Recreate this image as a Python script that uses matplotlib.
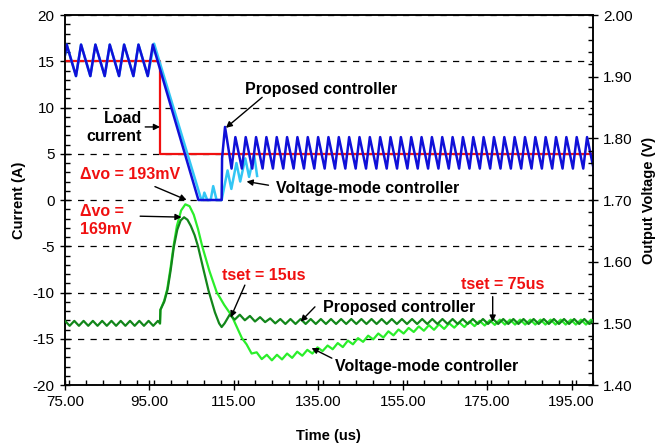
import matplotlib
matplotlib.use('Agg')
import matplotlib.pyplot as plt
from matplotlib.ticker import MultipleLocator, FormatStrFormatter

plt.rcParams['font.family'] = ['Liberation Sans', 'DejaVu Sans']

# load current step (A)
load_t = [75.0, 97.6, 97.6, 200.0]
load_i = [15.0, 15.0, 5.0, 5.0]

# proposed controller, inductor current (A): start-up + transient part
prop_i_t = [75.0, 75.4, 77.6, 78.8, 81.0, 82.2, 84.4, 85.6, 87.8, 89.0, 91.2,
            92.4, 94.6, 95.8, 106.6, 112.1, 112.2, 112.9]
prop_i_v = [15.7, 16.8, 13.4, 16.8, 13.4, 16.8, 13.4, 16.8, 13.4, 16.8, 13.4,
            16.8, 13.4, 16.8, 0.0, 0.0, 4.5, 7.9]
# ... and its ripple after the load step
prop_peak_t = [115.35, 117.80, 120.25, 122.70, 125.15, 127.60, 130.05, 132.50,
               134.95, 137.40, 139.85, 142.30, 144.75, 147.20, 149.65, 152.10,
               154.55, 157.00, 159.45, 161.90, 164.35, 166.80, 169.25, 171.70,
               174.15, 176.60, 179.05, 181.50, 183.95, 186.40, 188.85, 191.30,
               193.75, 196.20, 198.65]
prop_valley_t = [114.45, 116.90, 119.35, 121.80, 124.25, 126.70, 129.15, 131.60,
                 134.05, 136.50, 138.95, 141.40, 143.85, 146.30, 148.75, 151.20,
                 153.65, 156.10, 158.55, 161.00, 163.45, 165.90, 168.35, 170.80,
                 173.25, 175.70, 178.15, 180.60, 183.05, 185.50, 187.95, 190.40,
                 192.85, 195.30, 197.75, 200.20]
prop_peak_level = 6.8
prop_valley_level = 3.4

# voltage-mode controller, inductor current (A)
vm_i_t = [75.0, 75.4, 77.6, 78.8, 81.0, 82.2, 84.4, 85.6, 87.8, 89.0, 91.2,
          92.4, 94.6, 96.1, 107.3, 107.6, 108.0, 108.7, 109.5, 110.1, 110.9,
          112.1, 113.5, 114.4, 115.6, 116.5, 117.7, 118.6, 119.8, 120.5]
vm_i_v = [15.7, 16.8, 13.4, 16.8, 13.4, 16.8, 13.4, 16.8, 13.4, 16.8, 13.4,
          16.8, 13.4, 16.9, 0.0, 0.0, 0.8, 0.0, 0.0, 1.5, 0.0,
          0.0, 3.2, 1.2, 4.0, 2.0, 4.5, 2.5, 4.9, 2.6]

# proposed controller, output voltage (V)
prop_v_t = [75.0, 76.1, 77.2, 78.3, 79.4, 80.5, 81.6, 82.7, 83.8, 84.9, 86.0,
            87.1, 88.2, 89.3, 90.4, 91.5, 92.6, 93.7, 94.8, 95.9, 97.0, 97.5,
            97.6, 98.5, 99.3, 100.0, 100.8, 101.6, 102.4, 103.2, 104.0, 104.8,
            105.7, 106.5, 107.7, 109.0, 110.5, 111.5, 112.1, 112.8, 114.0,
            115.2, 116.4, 117.6, 118.8, 120.0, 121.2, 122.4, 123.6, 124.8,
            126.0, 127.2]
prop_v_v = [1.504, 1.496, 1.504, 1.496, 1.504, 1.496, 1.504, 1.496, 1.504,
            1.496, 1.504, 1.496, 1.504, 1.496, 1.504, 1.496, 1.504, 1.496,
            1.504, 1.496, 1.504, 1.500,
            1.522, 1.535, 1.555, 1.585, 1.625, 1.652, 1.667, 1.672, 1.668,
            1.658, 1.643, 1.625, 1.590, 1.553, 1.518, 1.500, 1.494, 1.500,
            1.514, 1.506, 1.514, 1.505, 1.512, 1.503, 1.510, 1.502, 1.508,
            1.500, 1.507, 1.499]
prop_v_crest_t = [128.4, 130.8, 133.2, 135.6, 138.0, 140.4, 142.8, 145.2, 147.6,
                  150.0, 152.4, 154.8, 157.2, 159.6, 162.0, 164.4, 166.8, 169.2,
                  171.6, 174.0, 176.4, 178.8, 181.2, 183.6, 186.0, 188.4, 190.8,
                  193.2, 195.6, 198.0, 200.4]
prop_v_trough_t = [129.6, 132.0, 134.4, 136.8, 139.2, 141.6, 144.0, 146.4, 148.8,
                   151.2, 153.6, 156.0, 158.4, 160.8, 163.2, 165.6, 168.0, 170.4,
                   172.8, 175.2, 177.6, 180.0, 182.4, 184.8, 187.2, 189.6, 192.0,
                   194.4, 196.8, 199.2]
prop_v_crest = 1.507
prop_v_trough = 1.499

# voltage-mode controller, output voltage (V)
vm_v_t = [97.5, 97.6, 98.5, 99.2, 100.0, 100.7, 101.5, 102.5, 103.5, 104.5,
          105.5, 106.5, 107.5, 109.2, 110.9, 112.7, 114.5, 115.7, 116.9,
          118.0, 119.2, 120.4, 121.6, 122.8, 124.0, 125.2, 126.4, 127.6, 128.8,
          130.0, 131.2, 132.4, 133.6, 134.8, 136.0, 137.2, 138.4, 139.6, 140.8,
          142.0, 143.2, 144.4, 145.6, 146.8, 148.0, 149.2, 150.4, 151.6, 152.8,
          154.0, 155.2, 156.4, 157.6, 158.8, 160.0, 161.2, 162.4, 163.6, 164.8,
          166.0, 167.2, 168.4, 169.6, 170.8, 172.0, 173.2, 174.4, 175.6, 176.8]
vm_v_v = [1.500, 1.522, 1.537, 1.555, 1.590, 1.625, 1.658, 1.683, 1.693, 1.690,
          1.676, 1.653, 1.625, 1.585, 1.551, 1.530, 1.512, 1.494, 1.476,
          1.466, 1.451, 1.453, 1.442, 1.449, 1.440, 1.449, 1.4415, 1.451, 1.444,
          1.454, 1.4475, 1.457, 1.451, 1.461, 1.455, 1.464, 1.458, 1.468, 1.4615,
          1.472, 1.466, 1.476, 1.470, 1.480, 1.474, 1.4835, 1.477, 1.487, 1.4805,
          1.490, 1.4835, 1.4925, 1.486, 1.495, 1.488, 1.497, 1.4895, 1.4985,
          1.491, 1.500, 1.493, 1.5015, 1.494, 1.503, 1.4955, 1.504, 1.4965,
          1.505, 1.4975]
vm_v_crest_t = [178.0, 180.4, 182.8, 185.2, 187.6, 190.0, 192.4, 194.8, 197.2,
                199.6]
vm_v_trough_t = [179.2, 181.6, 184.0, 186.4, 188.8, 191.2, 193.6, 196.0, 198.4,
                 200.8]
vm_v_crest = 1.506
vm_v_trough = 1.498

x_ticks = [75, 95, 115, 135, 155, 175, 195]

DARK_BLUE = '#1010d8'
LIGHT_BLUE = '#33c6f4'
RED = '#f01010'
DARK_GREEN = '#12861a'
LIGHT_GREEN = '#2aee2a'


def join_ripple(t, v, up_t, up_level, down_t, down_level):
    pts = [(a, up_level) for a in up_t] + [(a, down_level) for a in down_t]
    pts.sort()
    return list(t) + [p[0] for p in pts], list(v) + [p[1] for p in pts]


def note(ax_top, ax_ref, text, pos, color='black', ha='left'):
    ax_top.annotate(text, xy=pos, xycoords=ax_ref.transData,
                    ha=ha, va='center', multialignment=ha,
                    fontsize=11.5, fontweight='bold', color=color, zorder=10)


def arrow(ax_top, ax_ref, tail, tip):
    ax_top.annotate('', xy=tip, xytext=tail,
                    xycoords=ax_ref.transData, textcoords=ax_ref.transData,
                    arrowprops=dict(arrowstyle='-|>', color='black', lw=1.0,
                                    mutation_scale=9, shrinkA=0, shrinkB=0),
                    zorder=10)


fig = plt.figure(figsize=(6.6, 4.47), dpi=100)
ax = fig.add_axes([0.0985, 0.1387, 0.7996, 0.8277])
ax2 = ax.twinx()

# currents on the left axis
ax.plot(load_t, load_i, color=RED, lw=1.6, zorder=3)
ax.plot(vm_i_t, vm_i_v, color=LIGHT_BLUE, lw=1.8, zorder=4)
pt, pv = join_ripple(prop_i_t, prop_i_v, prop_peak_t, prop_peak_level,
                     prop_valley_t, prop_valley_level)
ax.plot(pt, pv, color=DARK_BLUE, lw=1.8, zorder=5)

# voltages on the right axis
vt, vv = join_ripple(vm_v_t, vm_v_v, vm_v_crest_t, vm_v_crest,
                     vm_v_trough_t, vm_v_trough)
ax2.plot(vt, vv, color=LIGHT_GREEN, lw=1.6, zorder=3)
gt, gv = join_ripple(prop_v_t, prop_v_v, prop_v_crest_t, prop_v_crest,
                     prop_v_trough_t, prop_v_trough)
ax2.plot(gt, gv, color=DARK_GREEN, lw=1.6, zorder=4)

ax.set_xlim(75, 200)
ax.set_ylim(-20, 20)
ax2.set_ylim(1.40, 2.00)

ax.set_xticks(x_ticks)
ax.xaxis.set_major_formatter(FormatStrFormatter('%.2f'))
ax.xaxis.set_minor_locator(MultipleLocator(4))
ax.yaxis.set_major_locator(MultipleLocator(5))
ax.yaxis.set_minor_locator(MultipleLocator(1))
ax.yaxis.set_major_formatter(FormatStrFormatter('%d'))
ax2.yaxis.set_major_locator(MultipleLocator(0.1))
ax2.yaxis.set_minor_locator(MultipleLocator(0.02))
ax2.yaxis.set_major_formatter(FormatStrFormatter('%.2f'))

ax.yaxis.grid(True, which='major', color='black', lw=0.9,
              linestyle=(0, (5, 5)))
ax.set_axisbelow(True)

for a in (ax, ax2):
    a.tick_params(which='major', direction='inout', length=7, width=1.0,
                  labelsize=11, pad=4, top=False)
    a.tick_params(which='minor', direction='in', length=3.5, width=1.0,
                  top=False)
    for s in a.spines.values():
        s.set_linewidth(1.1)
ax.tick_params(which='both', right=False)
ax2.tick_params(which='both', left=False)

ax.set_ylabel('Current (A)', fontsize=10.5, fontweight='bold')
ax.yaxis.set_label_coords(-0.073, 0.5)
ax2.set_ylabel('Output Voltage (V)', fontsize=10.5, fontweight='bold')
ax2.yaxis.set_label_coords(1.094, 0.5)
ax.set_xlabel('Time (us)', fontsize=10.5, fontweight='bold')
ax.xaxis.set_label_coords(0.5, -0.118)

# annotations
note(ax2, ax, 'Load\ncurrent', (93.2, 7.85), ha='right')
arrow(ax2, ax, (94.0, 7.9), (97.5, 7.9))
note(ax2, ax, 'Proposed controller', (117.6, 12.0))
arrow(ax2, ax, (121.7, 11.1), (113.1, 7.8))
note(ax2, ax, 'Voltage-mode controller', (125.0, 1.2))
arrow(ax2, ax, (123.2, 1.6), (118.0, 2.0))
note(ax2, ax, '\u0394vo = 193mV', (78.5, 2.8), color=RED)
arrow(ax2, ax, (96.3, 1.45), (103.8, 0.0))
note(ax2, ax, '\u0394vo =\n169mV', (78.5, -2.2), color=RED)
arrow(ax2, ax, (92.8, -1.75), (102.6, -1.85))
note(ax2, ax, 'tset = 15us', (112.1, -8.2), color=RED)
arrow(ax2, ax, (117.6, -9.2), (114.25, -12.7))
note(ax2, ax, 'tset = 75us', (168.8, -9.1), color=RED)
arrow(ax2, ax, (176.3, -10.45), (176.3, -13.15))
note(ax2, ax, 'Proposed controller', (136.0, -11.6))
arrow(ax2, ax, (134.2, -11.55), (130.8, -13.15))
note(ax2, ax, 'Voltage-mode controller', (139.0, -18.0))
arrow(ax2, ax, (138.2, -17.1), (133.4, -16.0))

fig.savefig('out.png', dpi=100)
